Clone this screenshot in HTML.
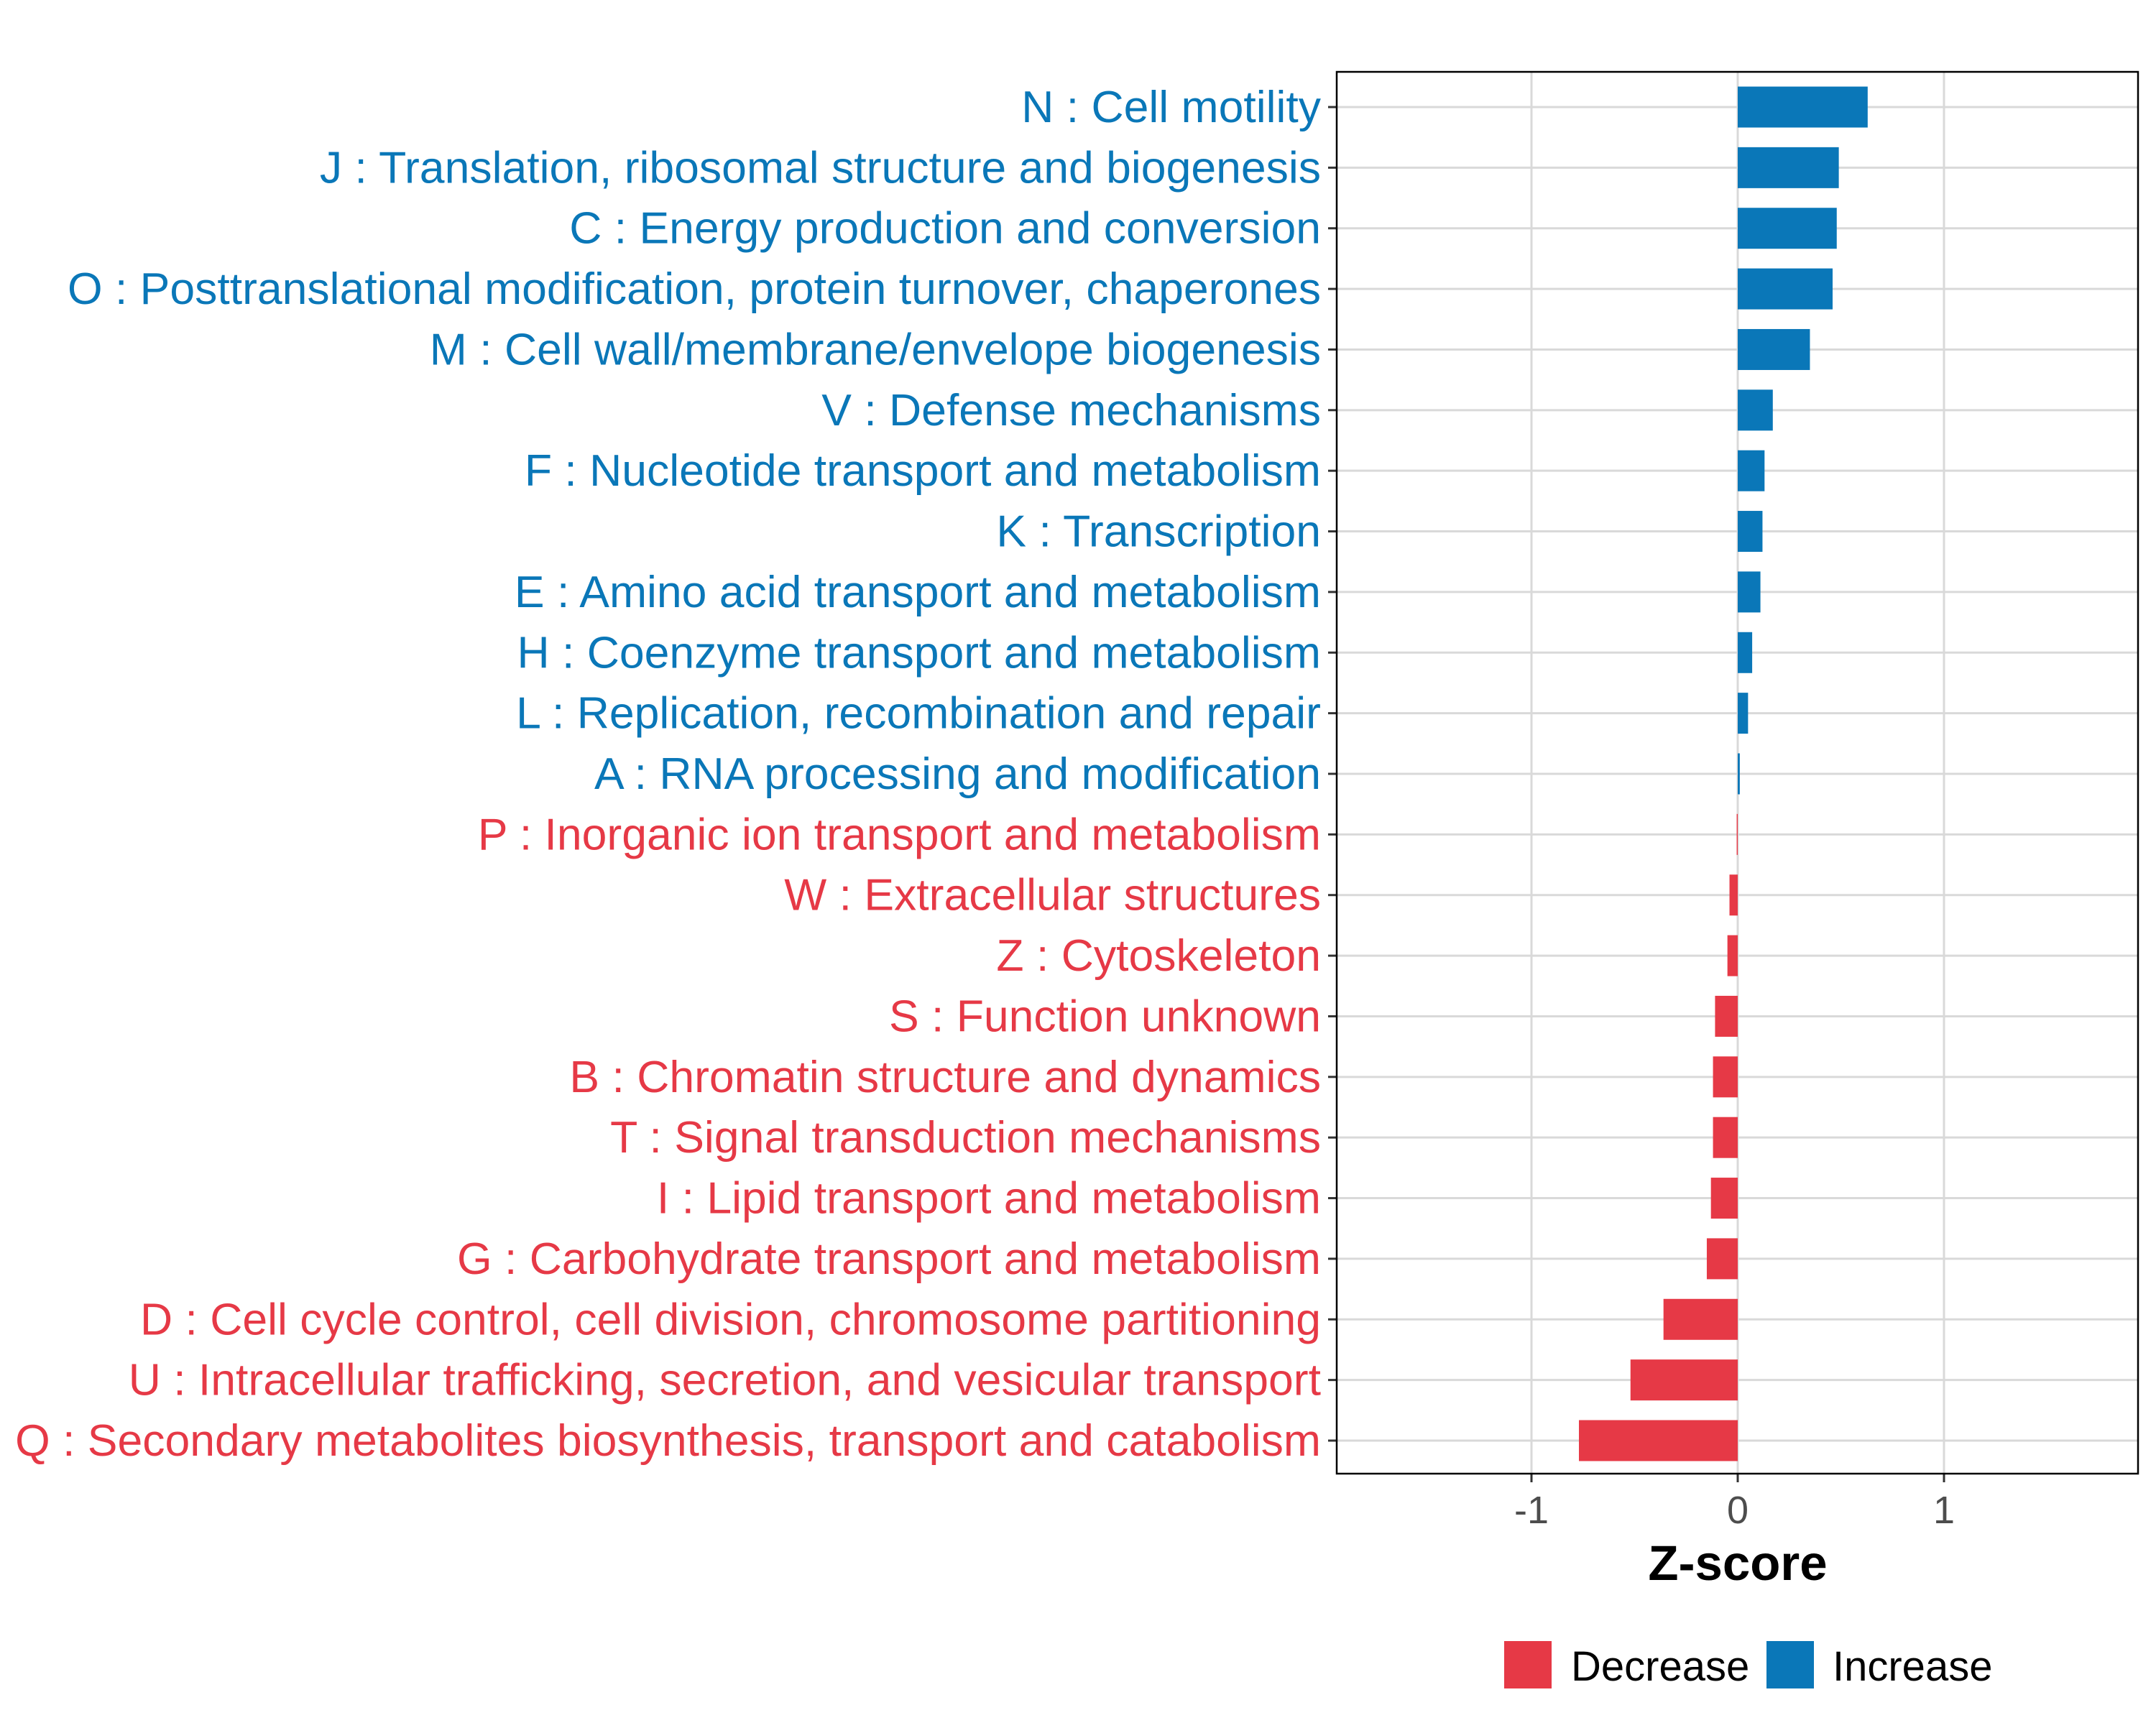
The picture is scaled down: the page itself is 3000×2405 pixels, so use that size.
<!DOCTYPE html>
<html><head><meta charset="utf-8"><style>
html,body{margin:0;padding:0;background:#fff;}
svg text{font-family:"Liberation Sans",sans-serif;}
</style></head><body>
<svg id="chart" width="3000" height="2400" xmlns="http://www.w3.org/2000/svg">
<rect x="0" y="0" width="3000" height="2400" fill="#fff"/>
<g id="grid"></g>
<g id="bars"></g>
<g id="ylabels"></g>
<g id="xaxis"></g>
<rect x="1860" y="100" width="1115" height="1951" fill="none" stroke="#000" stroke-width="2.5"/>
<text x="2418" y="2199" font-size="69" font-weight="bold" text-anchor="middle" fill="#000">Z-score</text>
<g>
<rect x="2093" y="2284" width="66" height="66" fill="#E63946"/>
<text x="2186" y="2339" font-size="58" fill="#000">Decrease</text>
<rect x="2458" y="2284" width="66" height="66" fill="#0A77B8"/>
<text x="2550" y="2339" font-size="58" fill="#000">Increase</text>
</g>
</svg>
<script>
const categories=["N : Cell motility","J : Translation, ribosomal structure and biogenesis","C : Energy production and conversion","O : Posttranslational modification, protein turnover, chaperones","M : Cell wall/membrane/envelope biogenesis","V : Defense mechanisms","F : Nucleotide transport and metabolism","K : Transcription","E : Amino acid transport and metabolism","H : Coenzyme transport and metabolism","L : Replication, recombination and repair","A : RNA processing and modification","P : Inorganic ion transport and metabolism","W : Extracellular structures","Z : Cytoskeleton","S : Function unknown","B : Chromatin structure and dynamics","T : Signal transduction mechanisms","I : Lipid transport and metabolism","G : Carbohydrate transport and metabolism","D : Cell cycle control, cell division, chromosome partitioning","U : Intracellular trafficking, secretion, and vesicular transport","Q : Secondary metabolites biosynthesis, transport and catabolism"];
const zscores=[0.63,0.49,0.48,0.46,0.35,0.17,0.13,0.12,0.11,0.07,0.05,0.01,-0.005,-0.04,-0.05,-0.11,-0.12,-0.12,-0.13,-0.15,-0.36,-0.52,-0.77];
const xTicks=[-1,0,1];
const xTickLabels=["-1","0","1"];
const NS="http://www.w3.org/2000/svg";
const X0=2418,UNIT=287,Y0=149,STEP=(2005-149)/22,BH=57;
function xs(v){return X0+v*UNIT;}
function ys(i){return Y0+i*STEP;}
function mk(tag,attrs,parent){const e=document.createElementNS(NS,tag);for(const k in attrs)e.setAttribute(k,attrs[k]);parent.appendChild(e);return e;}
const grid=document.getElementById('grid'),bars=document.getElementById('bars'),yl=document.getElementById('ylabels'),xa=document.getElementById('xaxis');
xTicks.forEach((t,i)=>{
 const l=mk('line',{x1:xs(t),x2:xs(t),y1:100,y2:2051,stroke:'#d9d9d9','stroke-width':3},grid);
 
 
 const tk=mk('line',{x1:xs(t),x2:xs(t),y1:2051,y2:2063,stroke:'#333','stroke-width':3},xa);
 
 
 const tx=mk('text',{x:xs(t),y:2120,'font-size':54,'text-anchor':'middle',fill:'#4d4d4d'},xa);
 tx.textContent=xTickLabels[i];
 
 
});
categories.forEach((c,i)=>{
 const y=ys(i),v=zscores[i],col=v>=0?'#0A77B8':'#E63946';
 const g=mk('line',{x1:1860,x2:2975,y1:y,y2:y,stroke:'#d9d9d9','stroke-width':3},grid);
 
 
 const x1=Math.min(xs(0),xs(v)),w=Math.max(Math.abs(xs(v)-xs(0)),1);
 const r=mk('rect',{x:x1,y:y-BH/2,width:w,height:BH,fill:col},bars);
 
 
 const tk=mk('line',{x1:1848,x2:1860,y1:y,y2:y,stroke:'#333','stroke-width':3},yl);
 
 
 const t=mk('text',{x:1838,y:y+21,'font-size':62.5,'text-anchor':'end',fill:col},yl);
 t.textContent=c;
 
 
});
</script>
</body></html>
